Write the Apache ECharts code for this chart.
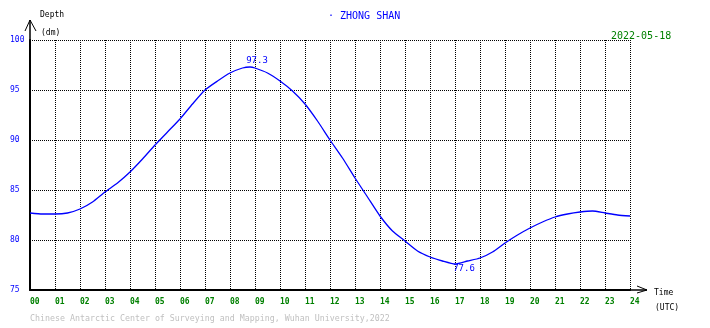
<!DOCTYPE html>
<html>
<head>
<meta charset="utf-8">
<script src="https://cdn.jsdelivr.net/npm/echarts@6/dist/echarts.min.js"></script>
<style>html,body{margin:0;padding:0;background:#fff}#c{width:710px;height:328px}</style>
</head>
<body>
<div id="c"></div>
<script>
var hours = [0,0.5,1,1.5,2,2.5,3,3.5,4,4.5,5,5.5,6,6.5,7,7.5,8,8.5,8.8,9,9.5,10,10.5,11,11.5,12,12.5,13,13.5,14,14.5,15,15.5,16,16.5,17,17.5,18,18.5,19,19.5,20,20.5,21,21.5,22,22.5,23,23.5,24];
var depth = [82.7,82.6,82.6,82.7,83.1,83.8,84.8,85.7,86.8,88.1,89.5,90.8,92.1,93.6,95.0,95.9,96.7,97.2,97.3,97.2,96.7,95.9,94.9,93.6,91.9,90.0,88.2,86.2,84.3,82.4,80.9,79.9,78.9,78.3,77.9,77.6,77.9,78.2,78.8,79.7,80.5,81.2,81.8,82.3,82.6,82.8,82.9,82.7,82.5,82.4];
var station = "ZHONG SHAN";
var dateLabel = "2022-05-18";
var footer = "Chinese Antarctic Center of Surveying and Mapping, Wuhan University,2022";

var L = 30, R = 80, T = 40, B = 38, W = 710, H = 328;
var font = "DejaVu Sans Mono";
var pts = hours.map(function(h, i){ return [h, depth[i]]; });

var chart = echarts.init(document.getElementById('c'));
chart.setOption({
  animation: false,
  backgroundColor: '#fff',
  grid: {left: L, right: R, top: T, bottom: B},
  xAxis: {
    type: 'value', min: 0, max: 24, interval: 1,
    axisLine: {show: true, lineStyle: {color: '#000', width: 2}},
    axisTick: {show: false},
    axisLabel: {color: '#008000', fontFamily: font, fontSize: 8, fontWeight: 'bold', margin: 8, align: 'left',
      formatter: function(v){ return (v < 10 ? '0' : '') + v; }},
    splitLine: {show: true, lineStyle: {color: '#000', type: [1,1], width: 1}}
  },
  yAxis: {
    type: 'value', min: 75, max: 100, interval: 5,
    axisLine: {show: true, lineStyle: {color: '#000', width: 2}},
    axisTick: {show: false},
    axisLabel: {color: '#0000ff', fontFamily: font, fontSize: 8, margin: 20, align: 'left', padding: [0,0,4,0]},
    splitLine: {show: true, lineStyle: {color: '#000', type: [1,1], width: 1}}
  },
  series: [{
    type: 'line',
    data: pts,
    showSymbol: false,
    smooth: 0.2,
    lineStyle: {color: '#0000ff', width: 1.3},
    markPoint: {
      symbol: 'circle', symbolSize: 0,
      data: [
        {type: 'max', label: {show: true, color: '#0000ff', fontFamily: font, fontSize: 9, offset: [7, -6]}},
        {type: 'min', label: {show: true, color: '#0000ff', fontFamily: font, fontSize: 9, offset: [9, 5]}}
      ],
      label: {formatter: function(p){ return p.value.toFixed(1); }}
    }
  }],
  graphic: [
    {type: 'polyline', shape: {points: [[L, T], [L, 20]]}, style: {stroke: '#000', lineWidth: 1.5}},
    {type: 'polyline', shape: {points: [[L - 5, 31], [L, 20], [L + 6, 31]]}, style: {stroke: '#000', fill: null, lineWidth: 1}},
    {type: 'polyline', shape: {points: [[W - R, H - B], [647, H - B]]}, style: {stroke: '#000', lineWidth: 1.5}},
    {type: 'polyline', shape: {points: [[637, 286], [647, 290], [637, 293]]}, style: {stroke: '#000', fill: null, lineWidth: 1}},
    {type: 'text', left: 40, top: 11, style: {text: 'Depth', fill: '#000', font: '8px "' + font + '"'}},
    {type: 'text', left: 41, top: 29, style: {text: '(dm)', fill: '#000', font: '8px "' + font + '"'}},
    {type: 'text', left: 654, top: 289, style: {text: 'Time', fill: '#000', font: '8px "' + font + '"'}},
    {type: 'text', left: 655, top: 304, style: {text: '(UTC)', fill: '#000', font: '8px "' + font + '"'}},
    {type: 'text', left: 328, top: 11, style: {text: '\u00b7 ' + station, fill: '#0000ff', font: '10px "' + font + '"'}},
    {type: 'text', left: 611, top: 31, style: {text: dateLabel, fill: '#008000', font: '10px "' + font + '"'}},
    {type: 'text', left: 30, top: 315, style: {text: footer, fill: '#c0c0c0', font: '8.3px "' + font + '"'}}
  ]
});
</script>
</body>
</html>
